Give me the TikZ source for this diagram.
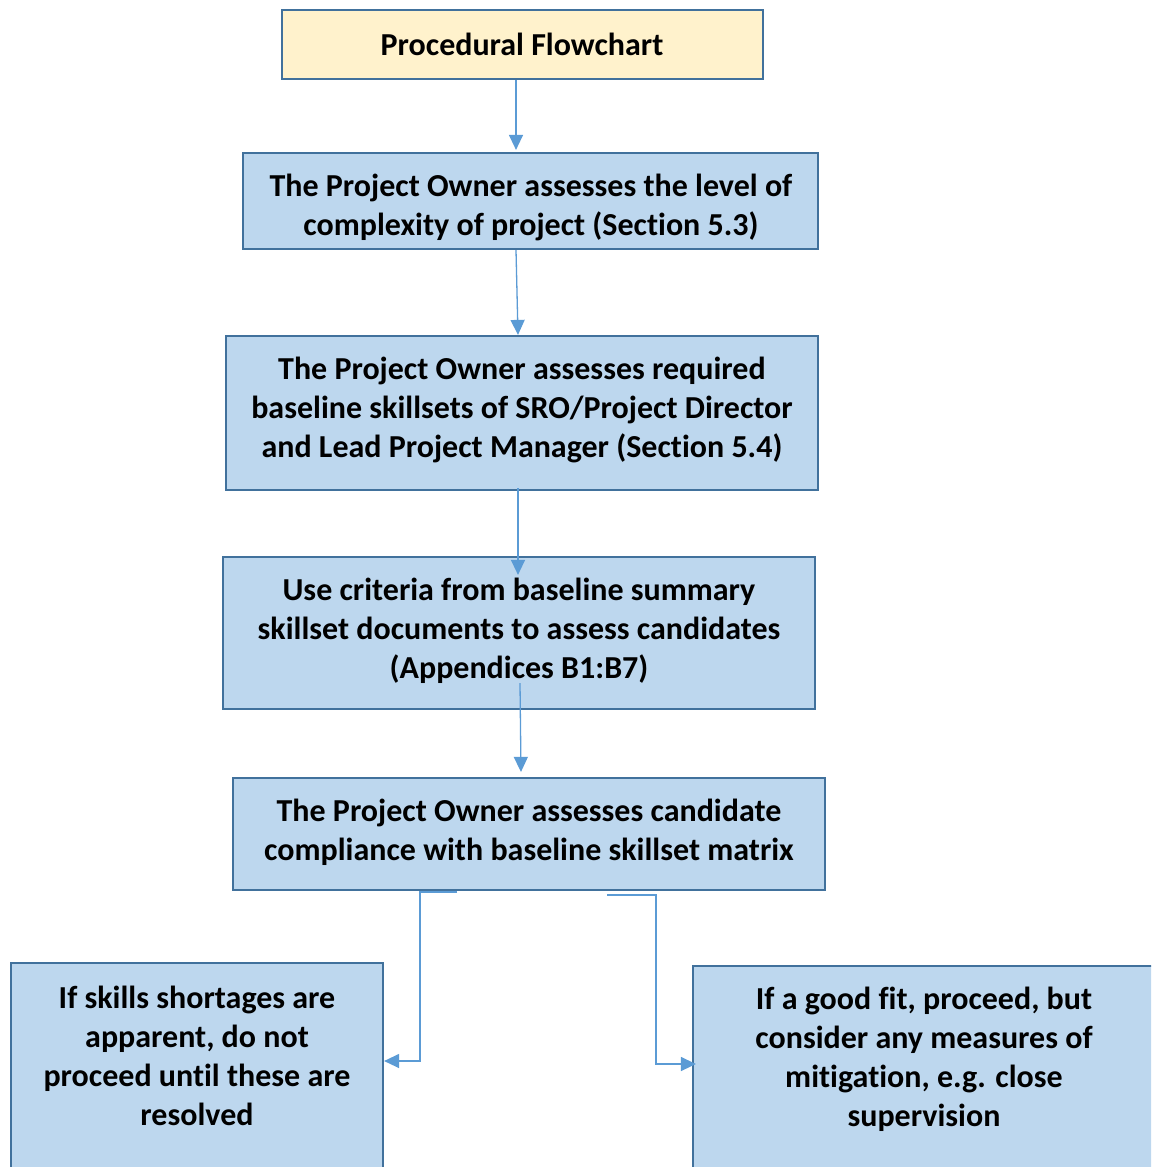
\documentclass[tikz,border=0pt]{standalone}
\usepackage{fontspec}
\setmainfont[Ligatures=NoCommon]{Carlito}
\usetikzlibrary{arrows.meta,calc}
\definecolor{boxfill}{HTML}{BDD7EE}
\definecolor{boxline}{HTML}{41719C}
\definecolor{titlefill}{HTML}{FFF2CC}
\definecolor{arrowc}{HTML}{5B9BD5}
\tikzset{
  box/.style={draw=boxline, fill=boxfill, line width=2.2pt, rectangle, inner sep=0pt},
  titlebox/.style={box, fill=titlefill},
  txt/.style={font=\fontsize{32}{39}\selectfont\bfseries, align=center, inner sep=0pt, text=black},
  arr/.style={draw=arrowc, line width=1.3pt, -{Triangle[length=15pt,width=14pt]}},
}
\begin{document}
\begin{tikzpicture}[x=1pt,y=-1pt]
\clip (0,0) rectangle (1151,1167);
\useasboundingbox (0,0) rectangle (1151,1167);
\fill[white] (0,0) rectangle (1151,1167);
% boxes
\node[titlebox, minimum width=481pt, minimum height=69pt] (b1) at (522.5,44.5) {};
\node[box, minimum width=575pt, minimum height=96pt] (b2) at (530.5,201) {};
\node[box, minimum width=592pt, minimum height=154pt] (b3) at (522,413) {};
\node[box, minimum width=592pt, minimum height=152pt] (b4) at (519,633) {};
\node[box, minimum width=592pt, minimum height=112pt] (b5) at (529,834) {};
\node[box, minimum width=372pt, minimum height=224pt] (b6) at (197,1075) {};
\node[box, minimum width=462pt, minimum height=222pt] (b7) at (924,1077) {};
% texts
\node[txt] (t1) at (522,44) {Procedural Flowchart};
\node[txt] (t2) at (531,207) {The Project Owner assesses the level of\\complexity of project (Section 5.3)};
\node[txt] (t3) at (522,410) {The Project Owner assesses required\\baseline skillsets of SRO/Project Director\\and Lead Project Manager (Section 5.4)};
\node[txt] (t4) at (519,631) {Use criteria from baseline summary\\skillset documents to assess candidates\\(Appendices B1:B7)};
\node[txt] (t5) at (529,832) {The Project Owner assesses candidate\\compliance with baseline skillset matrix};
\node[txt] (t6) at (197,1056) {If skills shortages are\\apparent, do not\\proceed until these are\\resolved};
\node[txt] (t7) at (924,1059) {If a good fit, proceed, but\\consider any measures of\\mitigation, e.g. close\\supervision};
% helper coordinates
\coordinate (c516) at (516,0);
\coordinate (c518) at (518,0);
\coordinate (c520) at (520,0);
\coordinate (c521) at (521,0);
\coordinate (c457) at (457,0);
\coordinate (c607) at (607,0);
\coordinate (k1) at (420,1061);
\coordinate (k2) at (656,1064);
% connectors
\draw[arr] (b1.south -| c516) -- ($(b2.north -| c516)+(0,-2)$);
\draw[arr] (b2.south -| c516) -- (b3.north -| c518);
\draw[arr] ($(b3.south -| c518)+(0,-3)$) -- ($(b4.north -| c518)+(0,19)$);
\draw[arr] ($(b4.south -| c520)+(0,-27)$) -- ($(b5.north -| c521)+(0,-5)$);
\draw[arr] ($(b5.south -| c457)+(0,1)$) -- ($(b5.south -| k1)+(0,1)$) -- (k1) -- (b6.east |- k1);
\draw[arr] ($(b5.south -| c607)+(0,4)$) -- ($(b5.south -| k2)+(0,4)$) -- (k2) -- ($(b7.west |- k2)+(4,0)$);
\end{tikzpicture}
\end{document}
